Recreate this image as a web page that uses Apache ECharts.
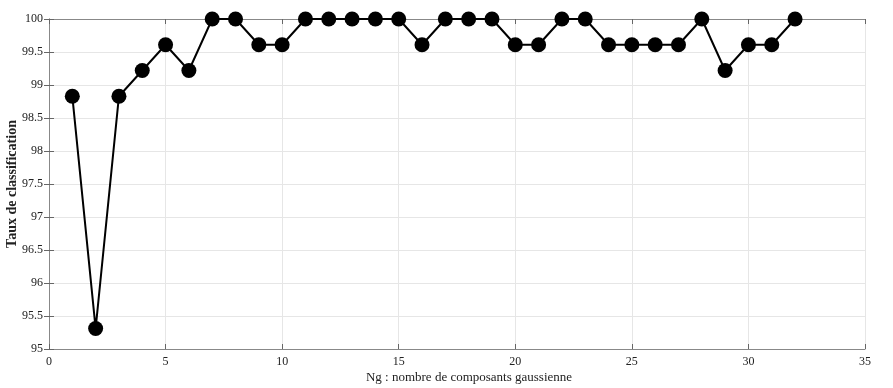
<!DOCTYPE html>
<html><head><meta charset="utf-8">
<script src="https://cdn.jsdelivr.net/npm/echarts@6/dist/echarts.min.js"></script>
<style>html,body{margin:0;padding:0;background:#fff}#c{width:893px;height:388px}</style>
</head><body><div id="c"></div>
<script>
const ngValues = [1,2,3,4,5,6,7,8,9,10,11,12,13,14,15,16,17,18,19,20,21,22,23,24,25,26,27,28,29,30,31,32];
const tauxValues = [98.83,95.31,98.83,99.22,99.61,99.22,100,100,99.61,99.61,100,100,100,100,100,99.61,100,100,100,99.61,99.61,100,100,99.61,99.61,99.61,99.61,100,99.22,99.61,99.61,100];
const xLabel = 'Ng : nombre de composants gaussienne';
const yLabel = 'Taux de classification';
const font = 'Liberation Serif';
const chart = echarts.init(document.getElementById('c'));
const axisLine = {show:true, lineStyle:{color:'#888', width:1}};
const tick = {show:true, inside:true, length:5, lineStyle:{color:'#666'}};
chart.setOption({
  animation:false,
  grid:{left:49,right:28,top:19,bottom:39,outerBoundsMode:'none',containLabel:false},
  xAxis:[{
    type:'value', min:0, max:35, interval:5, position:'bottom',
    axisLine, axisTick:tick,
    axisLabel:{color:'#222', fontFamily:font, fontSize:12, margin:7},
    splitLine:{show:true, lineStyle:{color:'#e6e6e6'}},
    name:xLabel, nameLocation:'middle', nameGap:22, nameMoveOverlap:false,
    nameTextStyle:{color:'#222', fontFamily:font, fontSize:13, padding:[0,0,0,24]}
  },{
    type:'value', min:0, max:35, interval:5, position:'top',
    axisLine, axisTick:tick, axisLabel:{show:false}, splitLine:{show:false}
  }],
  yAxis:[{
    type:'value', min:95, max:100, interval:0.5, position:'left',
    axisLine, axisTick:tick,
    axisLabel:{color:'#222', fontFamily:font, fontSize:12, margin:6},
    splitLine:{show:true, lineStyle:{color:'#e6e6e6'}},
    name:yLabel, nameLocation:'middle', nameGap:30, nameMoveOverlap:false,
    nameTextStyle:{color:'#222', fontFamily:font, fontSize:14, fontWeight:'bold'}
  },{
    type:'value', min:95, max:100, interval:0.5, position:'right',
    axisLine, axisTick:tick, axisLabel:{show:false}, splitLine:{show:false}
  }],
  series:[{
    type:'line',
    data: ngValues.map((n,i)=>[n,tauxValues[i]]),
    symbol:'circle', symbolSize:15,
    itemStyle:{color:'#000'},
    lineStyle:{color:'#000', width:2},
    clip:false
  }]
});
</script></body></html>
